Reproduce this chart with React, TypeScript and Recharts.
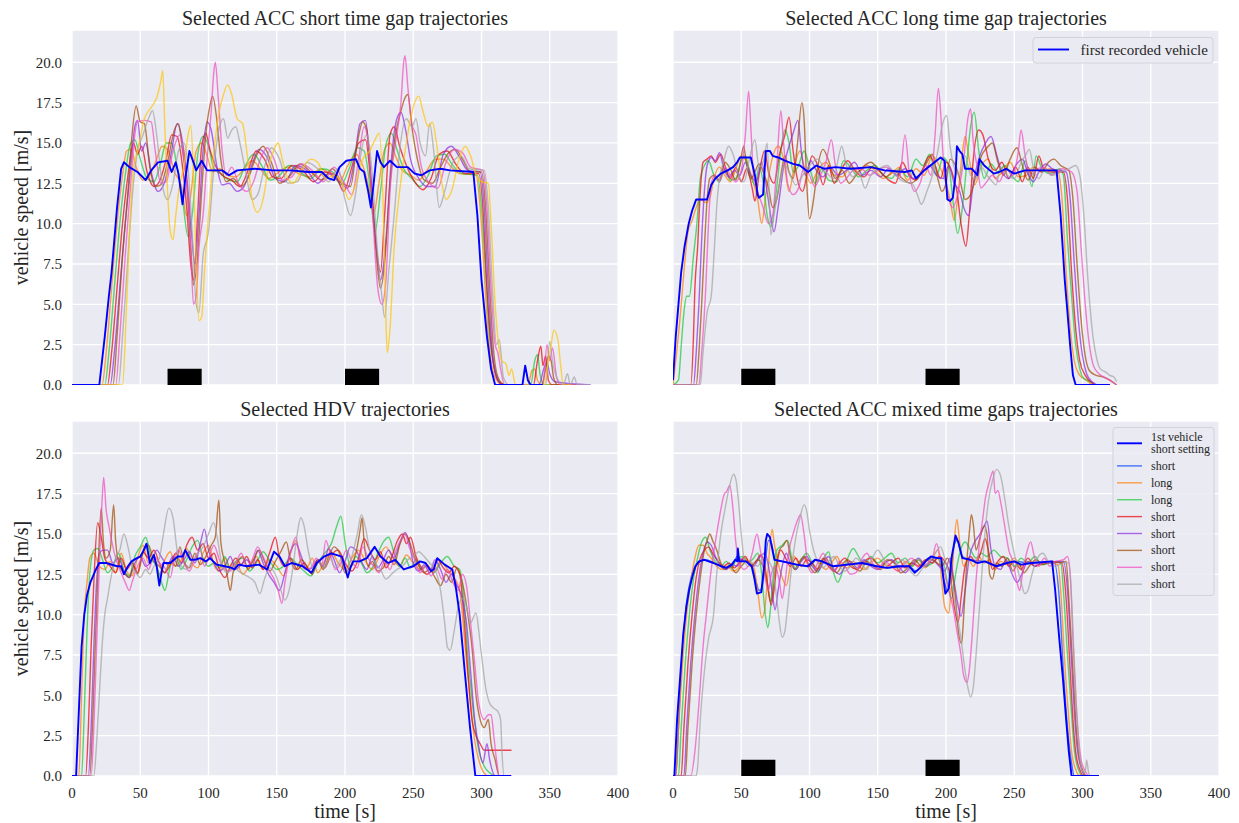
import React from 'react';
import { LineChart, Line, XAxis, YAxis, CartesianGrid, ReferenceArea } from 'recharts';

// ---------------- axes / labels ----------------
const xTicks = [0, 50, 100, 150, 200, 250, 300, 350, 400];
const yTicks = [0, 2.5, 5, 7.5, 10, 12.5, 15, 17.5, 20];
const titleTL = 'Selected ACC short time gap trajectories';
const titleTR = 'Selected ACC long time gap trajectories';
const titleBL = 'Selected HDV trajectories';
const titleBR = 'Selected ACC mixed time gaps trajectories';
const xLabel = 'time [s]';
const yLabel = 'vehicle speed [m/s]';
const legendTR = ['first recorded vehicle'];
const legendBR = ['1st vehicle', 'short setting', 'short', 'long', 'long', 'short', 'short', 'short', 'short', 'short'];

// disturbance bars [start, end, start, end] in seconds
const tlBars = [70, 95, 200, 225];
const trBars = [50, 75, 185, 210];
const blBars: number[] = [];
const brBars = [50, 75, 185, 210];

// ---------------- series: flat [t, v, t, v, ...] ----------------
// Top-left: ACC short time gap
const tlBlue = [0,0, 20,0, 24,3, 27,5.5, 29,7, 33,11, 36,13.4, 38,13.8, 42,13.5, 48,13.2, 54,12.7, 58,13.3, 63,13.8, 70,13.9, 73,13.2, 76,13.8, 78,13.1, 81,11.2, 83,12.8, 86,14.5, 89,13.8, 91,13.3, 95,13.9, 99,13.3, 103,13.3, 110,13.3, 115,13.0, 121,13.3, 134,13.4, 147,13.3, 160,13.3, 173,13.2, 183,13.2, 188,12.8, 192,12.7, 196,13.5, 201,13.9, 208,14.0, 211,13.4, 214,13.2, 217,12.0, 219,11.0, 221,12.5, 223.5,14.5, 226,13.8, 228.5,13.5, 233,13.9, 238,13.5, 246,13.5, 251,13.1, 256,13.0, 262,13.3, 270,13.4, 277,13.3, 294,13.2, 297,10.5, 300,6.5, 304,3.0, 307,1.0, 310,0, 330,0, 332,1.2, 334,0.3, 336,0, 345,0];
const tlOrange = [0,0, 22,0, 25,2, 29,6, 33,10, 37,13, 40,14.5, 43,14.6, 47,13.5, 52,12.7, 57,13.0, 62,14.0, 66,14.8, 70,14.6, 75,13.2, 80,12.4, 84,10.5, 87,11.8, 91,14.5, 95,15.0, 99,14.2, 103,13.2, 108,13.4, 114,13.0, 120,12.9, 126,13.4, 132,13.9, 138,13.4, 144,12.8, 150,13.1, 158,13.5, 166,13.1, 174,12.9, 182,13.4, 190,13.0, 196,12.6, 202,13.6, 208,14.3, 213,13.6, 217,12.4, 221,10.6, 225,12.6, 229,14.6, 233,15.0, 237,14.2, 242,13.3, 248,13.0, 254,12.7, 260,13.3, 266,14.0, 272,14.0, 278,13.5, 284,13.1, 296,13.0, 299,11, 302,7, 305,3, 308,1, 312,0.2, 316,0, 334,0, 337,0.9, 339,1.0, 341,0.3, 344,0, 360,0];
const tlGreen = [0,0, 24,0, 27,2, 31,6, 35,10, 39,13, 43,15.0, 46,15.2, 50,14.0, 55,12.8, 60,12.6, 65,13.8, 69,15.0, 73,15.0, 77,13.5, 81,11.5, 85,9.2, 88,10.5, 92,14.2, 96,15.4, 100,14.8, 104,13.4, 109,13.1, 115,12.7, 121,12.6, 127,13.6, 133,14.3, 139,13.6, 145,12.7, 151,12.9, 159,13.6, 167,13.2, 175,12.8, 183,13.4, 191,13.2, 197,12.4, 203,13.4, 209,14.7, 214,14.5, 218,12.5, 222,9.5, 226,12.0, 230,14.9, 234,15.6, 238,14.6, 243,13.4, 249,12.8, 255,12.3, 261,13.0, 267,14.2, 273,14.3, 279,13.6, 286,13.1, 297,13.0, 300,11, 303,7, 306,3, 309,1.2, 313,0.2, 318,0, 336,0, 339,1.5, 341,1.9, 343,0.6, 346,0, 360,0];
const tlRed = [0,0, 26,0, 29,2, 33,6, 37,10, 41,13, 45,15.0, 48,14.3, 51,14.8, 55,13.2, 60,12.3, 64,12.6, 69,14.0, 73,15.5, 77,15.4, 81,13.5, 84,11.0, 87,7.5, 89,6.5, 92,10.5, 95,14.8, 98,15.6, 101,14.6, 105,13.6, 110,13.0, 117,12.7, 123,12.3, 129,13.3, 135,14.5, 141,14.0, 147,12.9, 153,12.8, 161,13.6, 169,13.3, 177,12.6, 185,13.2, 193,13.0, 199,12.0, 205,13.5, 210,15.0, 215,15.2, 219,12.5, 223,8.5, 226,7.0, 229,10.5, 233,15.5, 236,16.0, 240,14.8, 245,13.6, 251,12.6, 257,12.1, 263,12.8, 269,14.3, 275,14.5, 281,13.7, 288,13.1, 298,13.1, 301,11, 304,6, 307,2.5, 310,0.8, 314,0.1, 320,0, 338,0, 341,1.5, 343.5,2.4, 345,1.2, 347,1.8, 349,0.3, 352,0, 365,0];
const tlPurple = [0,0, 28,0, 31,2, 35,6, 39,10, 43,13.5, 46,16.0, 48,16.4, 51,14.5, 54,15.0, 58,13.2, 63,12.0, 68,12.6, 73,14.5, 77,16.2, 80,15.5, 84,13.0, 87,10.0, 90,7.5, 93,10.5, 96,14.5, 99,16.3, 102,15.8, 106,13.6, 110,12.4, 115,12.5, 121,12.0, 126,12.3, 132,13.7, 137,14.6, 143,14.1, 149,12.8, 156,12.6, 164,13.6, 172,13.3, 180,12.5, 188,13.1, 196,12.6, 202,12.2, 207,14.0, 211,16.2, 215,16.4, 218,14.0, 222,9.5, 226,6.5, 230,9.0, 234,14.0, 238,16.5, 241,16.9, 244,16.0, 248,14.0, 254,12.8, 260,12.3, 266,12.3, 272,14.3, 278,14.8, 284,14.1, 290,13.3, 299,13.2, 302,11, 305,6, 308,2, 311,0.5, 316,0, 342,0, 346,1.1, 348,1.4, 350,0.7, 354,0.2, 380,0];
const tlBrown = [0,0, 30,0, 33,3, 37,8, 41,12, 44,15.5, 47,17.3, 50,16.3, 53,16.2, 57,13.5, 61,12.3, 65,12.4, 70,13.8, 75,15.8, 78,16.2, 81,14.5, 84,12.5, 87,8.5, 89,6.2, 92,8.0, 95,12.0, 98,15.5, 101,17.3, 103,17.9, 106,16.5, 109,14.0, 113,12.6, 118,12.8, 124,12.3, 130,13.0, 135,14.2, 140,14.8, 146,13.8, 152,12.5, 160,13.0, 167,13.7, 175,13.2, 183,12.7, 191,13.4, 198,12.5, 204,12.3, 209,15.0, 213,16.3, 216,15.8, 219,12.5, 223,8.0, 226,6.0, 229,7.5, 233,12.5, 237,15.5, 241,17.0, 244,17.8, 246,18.0, 249,16.0, 253,14.0, 258,12.7, 264,12.5, 270,13.5, 276,14.4, 281,14.6, 286,14.0, 292,13.2, 300,13.2, 303,11, 306,6, 309,2, 312,0.5, 317,0, 344,0, 347,1.0, 349,1.8, 351,1.5, 353,0.4, 356,0, 370,0];
const tlPink = [0,0, 32,0, 35,3, 39,8, 43,12.5, 46,15.5, 48,16.3, 53,16.4, 58,16.3, 61,14.5, 65,12.5, 69,12.6, 74,14.5, 79,15.5, 82,14.0, 85,11.5, 87,8.5, 89,5.0, 91,5.5, 93,8.5, 96,10.5, 99,14.0, 102,17.0, 104,19.5, 105,20.0, 107,18.0, 110,14.5, 113,13.0, 117,13.5, 122,12.5, 128,12.0, 133,12.6, 138,14.0, 143,14.7, 148,14.0, 154,12.7, 161,12.9, 168,13.7, 176,13.3, 184,12.6, 192,13.5, 199,12.6, 205,11.8, 210,14.0, 214,16.0, 217,15.0, 220,11.0, 224,6.0, 227,5.0, 230,6.5, 233,12.0, 237,15.0, 241,17.5, 243,20.0, 244,20.4, 246,18.5, 249,16.2, 252,15.5, 256,13.5, 262,12.5, 268,12.2, 274,13.8, 280,14.6, 286,14.4, 292,13.5, 301,13.3, 304,11, 307,6, 310,2.5, 312,2.0, 314,1.0, 317,0, 345,0, 348,2.5, 350,1.5, 352,2.3, 355,0.5, 358,0, 375,0];
const tlGray = [0,0, 34,0, 37,3, 41,8, 45,12.5, 48,14.5, 52,15.5, 56,16.5, 59,17.0, 62,15.5, 66,12.5, 70,11.5, 74,12.5, 78,14.5, 82,15.0, 85,13.5, 88,9.5, 91,5.0, 93,4.5, 96,8.0, 100,9.5, 104,13.5, 108,16.0, 111,16.5, 114,15.3, 117,15.8, 120,16.0, 123,15.0, 127,13.3, 132,11.5, 136,11.8, 141,13.5, 146,14.7, 152,14.0, 158,12.5, 165,12.6, 172,13.8, 180,13.4, 188,12.6, 195,13.4, 200,11.5, 204,10.5, 208,12.0, 212,14.5, 216,15.5, 220,13.0, 224,8.0, 227,5.5, 229,4.2, 232,7.0, 236,10.5, 240,14.5, 245,16.5, 249,16.0, 252,16.5, 255,15.0, 259,14.2, 262,16.2, 265,14.5, 269,11.0, 273,12.0, 279,13.8, 285,14.2, 291,13.4, 302,13.3, 305,11, 308,6, 311,2.5, 313,2.8, 316,0.5, 320,0, 347,0, 350,2.7, 352,1.5, 356,0.3, 360,0, 363,0.7, 365,0, 368,0.5, 370,0, 380,0];
const tlYellow = [0,0, 37,0, 40,5, 43,11, 45,13.5, 48,14.5, 53,16.5, 58,17.2, 62,17.8, 65,18.8, 66.5,19.5, 68,16.0, 70,12.0, 72,9.5, 74,9.0, 76,10.5, 79,12.5, 82,13.5, 85,15.5, 87,16.1, 89,13.0, 91,7.5, 93,4.0, 95,4.2, 97,7.0, 100,10.5, 104,14.5, 108,17.0, 111,18.0, 114,18.6, 117,18.0, 121,16.5, 125,16.2, 128,14.5, 132,11.5, 136,10.7, 140,11.5, 144,13.5, 148,14.6, 151,15.0, 154,14.0, 158,12.8, 162,12.5, 168,13.3, 175,14.0, 180,13.8, 186,12.8, 192,13.0, 198,12.5, 203,11.5, 208,12.5, 213,14.0, 218,14.5, 222,15.2, 225,15.6, 228,11.0, 230,4.0, 231,2.0, 233,3.5, 236,8.5, 240,12.0, 244,14.5, 248,16.5, 251,17.5, 254,17.9, 257,17.0, 261,16.0, 264,16.3, 267,15.0, 271,12.5, 274,11.5, 278,12.0, 283,13.8, 288,14.8, 292,14.2, 296,13.0, 300,12.6, 305,12.5, 307,10, 310,5, 313,2.2, 315,1.5, 318,1.3, 320,0.6, 322,1.0, 325,0, 346,0, 349,1.5, 351,2.5, 353,3.4, 356,2.8, 358,1.2, 360,0, 365,0];

// Top-right: ACC long time gap
const trBlue = [0,0.3, 2,3, 4,5.0, 6,7.0, 8.5,8.6, 11.5,10.0, 14,10.8, 17,11.5, 20,11.5, 25,11.5, 28,12.4, 31,12.8, 35,13.1, 40,13.3, 44,13.5, 47,13.8, 49,14.1, 57,14.1, 60,13.0, 62,11.8, 63,11.6, 66,11.8, 68,14.5, 71,14.5, 73,14.2, 77,14.1, 82,13.9, 88,13.7, 93,13.6, 99,13.2, 105,13.6, 111,13.4, 119,13.5, 130,13.4, 145,13.5, 155,13.3, 170,13.2, 175,13.3, 178,12.8, 184,13.3, 190,13.7, 196,14.1, 199,13.9, 201,11.5, 203,11.4, 205,11.6, 207,13.0, 208,14.8, 210,14.5, 212,14.3, 214,13.4, 219,13.4, 223,13.0, 224.5,14.0, 228,13.6, 235,13.1, 239,13.2, 244,13.4, 250,13.1, 258,13.3, 281,13.3, 284,10.5, 287,6.5, 289,4.5, 291,2.4, 293,0.6, 295,0, 320,0];
const trOrange = [0,0, 2,1.5, 5,4.0, 8,7.0, 11,9.5, 14,10.2, 17,11.0, 20,11.5, 24,11.3, 27,11.6, 30,12.8, 34,13.5, 38,13.0, 42,12.6, 46,13.4, 50,14.2, 54,13.8, 58,12.8, 62,11.5, 65,10.0, 68,11.8, 72,13.8, 77,14.8, 81,14.0, 85,12.0, 89,13.6, 93,14.5, 97,13.2, 101,12.5, 106,13.3, 112,13.8, 118,13.0, 124,12.9, 130,13.5, 136,13.2, 142,13.6, 148,13.3, 154,12.8, 160,13.1, 166,13.5, 172,12.7, 178,13.4, 184,13.0, 190,14.2, 195,13.6, 200,12.5, 203,11.5, 206,10.2, 209,12.0, 212,14.4, 214,15.4, 217,14.0, 221,12.4, 226,13.6, 231,14.0, 236,12.8, 241,13.2, 247,13.8, 253,12.9, 259,13.0, 264,13.5, 270,13.2, 276,13.4, 282,13.2, 285,11.5, 288,7, 291,3.5, 294,1.5, 298,0.6, 303,0.3, 308,0, 320,0];
const trGreen = [0,0, 4,0.3, 6,2.4, 8,4.5, 10,5.5, 12,5.5, 15,8.0, 17.5,10.0, 20,12.8, 23,13.6, 26,13.9, 30,13.0, 34,12.6, 38,13.4, 42,12.7, 46,12.8, 50,13.9, 53,14.2, 56,13.2, 60,12.4, 63,13.5, 66,12.6, 69,10.5, 72,9.8, 75,11.5, 79,14.5, 82,15.8, 85,15.0, 88,13.2, 92,13.6, 96,14.5, 100,13.5, 104,12.5, 109,13.4, 114,12.7, 120,12.6, 125,13.9, 130,13.5, 136,12.9, 142,13.3, 148,13.6, 154,13.0, 160,12.8, 166,13.4, 172,12.9, 178,14.0, 183,13.6, 188,14.3, 193,13.0, 198,14.1, 202,13.6, 205,11.5, 208.5,9.4, 212,11.0, 215,13.5, 218,16.0, 220.7,16.9, 224,14.5, 228,12.8, 233,13.7, 238,13.2, 243,13.6, 248,13.0, 253,12.6, 258,13.9, 263,12.3, 266,14.2, 271,13.3, 277,13.1, 283,13.4, 286,13.0, 289,9, 292,5.5, 295,2.5, 298,1.0, 301,0.4, 306,0.2, 310,0, 320,0];
const trRed = [0,0, 13,0, 15,3.0, 16,5.9, 18,8.5, 20,12.0, 22,13.8, 25,14.0, 28,14.2, 31,13.8, 35,14.3, 38,13.6, 42,12.8, 46,13.5, 50,12.6, 54,13.4, 58,12.2, 60,11.4, 63,13.0, 67,14.5, 70,13.2, 74,12.5, 78,14.3, 82,15.5, 85,16.6, 88,14.5, 91,12.8, 95,12.0, 99,13.4, 102,14.2, 106,13.6, 110,12.4, 114,13.6, 118,12.5, 122,13.1, 128,13.9, 134,13.2, 140,12.9, 146,13.5, 152,13.2, 158,12.7, 163,12.5, 168,13.8, 173,13.0, 178,12.7, 183,13.4, 188,14.2, 192,13.6, 196,12.8, 200,13.8, 204,13.3, 208,12.0, 211,10.0, 214.6,8.6, 217,10.5, 220,14.0, 224,15.8, 227,15.5, 231,14.0, 236,13.3, 241,13.8, 246,12.8, 251,13.5, 256,12.6, 260,13.5, 264,12.8, 268,14.2, 272,13.3, 278,13.2, 286,13.2, 289,11.5, 292,7, 295,3.5, 298,1.5, 302,0.6, 306,0.2, 310,0, 320,0];
const trPurple = [0,0, 15,0, 17,2.0, 19,5.0, 21,9.0, 23,12.0, 25,13.6, 28,14.1, 31,13.9, 34,14.4, 37,13.5, 41,12.9, 45,13.3, 49,13.0, 53,13.8, 57,13.0, 61,12.6, 65,13.8, 68,12.5, 71,10.8, 74,9.5, 77,11.0, 81,13.5, 85,14.8, 88,15.6, 91.5,16.4, 94,14.5, 97,13.0, 101,13.9, 105,13.3, 110,12.9, 115,13.5, 121,13.0, 127,13.3, 133,13.8, 139,13.0, 145,13.3, 152,12.9, 158,13.4, 164,13.0, 170,13.4, 176,12.8, 182,13.1, 188,13.6, 193,13.0, 198,12.8, 202,13.6, 206,12.5, 210,12.0, 213,11.0, 216.6,10.5, 220,12.5, 224,14.0, 229,15.0, 233,15.4, 237,14.3, 241,13.2, 246,12.8, 251,13.6, 256,14.0, 260,13.1, 264,12.6, 268,13.2, 273,13.7, 278,13.4, 288,13.2, 291,11.5, 294,7.5, 297,4, 300,1.8, 303,0.7, 307,0.2, 312,0, 320,0];
const trBrown = [0,0, 17,0, 19,2, 21,5, 23,8.5, 25,11.5, 27,12.8, 30,13.0, 34,12.7, 38,13.8, 42,13.4, 46,12.7, 49,13.6, 51.7,14.8, 54,13.6, 57,12.8, 60,13.2, 63,13.7, 67,13.0, 70,12.2, 73,11.0, 76,11.5, 79,13.0, 82,14.2, 85,13.2, 88,12.8, 91,14.8, 94.4,17.5, 96,16.5, 98,12.5, 100,10.3, 103,11.5, 106,13.5, 110,14.6, 114,13.9, 119,12.8, 124,13.3, 129,12.5, 134,13.0, 139,13.5, 145,13.8, 150,13.4, 156,12.9, 162,13.3, 168,12.8, 174,12.5, 180,12.9, 186,13.8, 190,14.3, 194,12.8, 197,12.0, 200,12.5, 203,14.0, 207,13.6, 210,12.8, 214,11.5, 218,11.8, 222,13.0, 226,14.2, 230,14.7, 234,15.0, 238,13.8, 242,13.0, 247,14.0, 252,14.7, 256,13.6, 260,12.7, 265,13.5, 270,13.2, 275,13.8, 279,14.0, 284,13.6, 290,13.3, 293,11.5, 296,7.5, 299,4.0, 302,1.8, 305,0.9, 310,0.6, 315,0.5, 320,0.3, 325,0];
const trPink = [0,0, 19,0, 21,2, 24,6, 26,10, 28,12.5, 31,13.0, 34,12.6, 38,13.5, 42,13.0, 46,12.6, 50,13.3, 53,15.5, 55.4,18.2, 57,16.0, 59,13.0, 62,12.0, 66,11.0, 70,10.0, 73,10.5, 76,13.5, 79,17.0, 81,15.0, 84,12.5, 88,11.8, 92,12.2, 96,13.5, 100,13.0, 104,12.3, 108,13.0, 112,13.8, 116,15.2, 119,13.6, 123,12.5, 127,12.8, 132,13.3, 138,13.4, 144,13.0, 150,13.3, 156,13.5, 162,13.2, 166,12.8, 170,15.5, 173,13.2, 177,12.0, 181,12.5, 185,13.6, 189,13.0, 192,15.5, 194.4,18.4, 196,17.0, 198,14.0, 201,12.0, 205,11.0, 209,12.0, 213,14.0, 216,16.5, 218,17.1, 220,15.0, 223,13.5, 225.6,12.2, 229,12.5, 234,13.0, 239,12.6, 244,13.4, 249,13.0, 253,14.5, 255,15.8, 258,14.2, 262,13.0, 267,13.4, 272,13.5, 277,13.0, 285,13.4, 292,13.2, 296,12.0, 299,8.5, 302,5, 305,2.5, 308,1.2, 312,0.7, 318,0.4, 322,0.2, 325,0];
const trGray = [0,0, 20,0, 22,2, 25,4.5, 28,5.5, 30,8.0, 32,11.0, 34,12.8, 37,13.8, 40.7,14.8, 44,14.3, 48,13.0, 52,12.6, 56,14.0, 60,15.2, 63,13.5, 66,13.8, 69,15.0, 71.7,9.3, 74,10.5, 78,12.5, 82,13.6, 86,13.0, 90,12.4, 95,13.0, 100,13.6, 106,14.0, 112,13.2, 118,12.8, 121,14.0, 123.6,14.8, 127,13.6, 132,12.9, 136,13.2, 140.7,12.2, 145,13.0, 151,13.4, 157,13.6, 163,13.0, 169,12.6, 175,12.5, 179,11.8, 182,11.2, 186,12.0, 190,13.0, 194,14.5, 197,16.0, 200.5,16.7, 203,14.8, 206,13.5, 210,13.0, 214,14.2, 218,13.0, 222,12.8, 226,13.5, 230,13.0, 234,12.6, 236.6,12.4, 240,13.5, 245,13.0, 250,12.8, 255,13.8, 258,14.2, 261,14.6, 264,13.5, 268,12.8, 272,13.3, 278,13.0, 284,13.2, 290,13.4, 295,13.6, 298,13.0, 301,10.5, 304,6.5, 307,3.5, 310,1.8, 313,1.0, 317,0.8, 320,0.6, 323,0.5, 325,0.2];

// Bottom-left: HDV
const blBlue = [0,0, 3,0, 5,4, 7,8, 9,10.0, 11,11.2, 13.5,12.0, 17.5,12.8, 20,13.2, 25,13.2, 33,13.0, 36,13.0, 38,12.5, 41,13.0, 43.6,13.3, 47.5,13.5, 50,13.6, 52,13.9, 54.6,14.4, 57,13.2, 60,13.7, 62,13.0, 64,11.8, 66,12.8, 67,13.2, 72,13.2, 77.5,13.6, 81,13.6, 83,14.0, 86.7,13.4, 90,13.4, 94,13.5, 98,13.3, 101,13.5, 106,13.1, 112,13.0, 117,12.9, 119,12.8, 122,13.1, 128,13.0, 137,13.1, 143,12.8, 148,13.9, 152,13.6, 156,13.0, 161,13.2, 169,13.0, 175.5,12.6, 179.4,13.2, 184.6,13.6, 190,13.8, 197.7,13.6, 200,12.9, 202,12.3, 204,12.9, 206,13.3, 210.7,13.3, 216,13.5, 221.7,14.2, 226,13.6, 231.6,13.2, 236.8,13.4, 243,12.8, 250,13.0, 255,13.3, 259,13.2, 263,12.7, 265,12.8, 267.6,13.5, 273,13.1, 278.6,12.8, 281,11.8, 284,10.0, 287.7,6.5, 291.6,3.0, 295.5,0, 321.7,0];
const blOrange = [0,0, 5,0, 7,5, 9,10, 11,12.0, 13,13.5, 16,13.8, 20,13.0, 24,12.8, 28,13.3, 32,12.6, 36,13.8, 40,12.7, 44,12.4, 48,13.5, 52,14.3, 56,13.2, 60,13.6, 64,12.5, 68,13.4, 72,13.9, 76,13.0, 80,13.4, 84,14.1, 88,13.2, 92,12.9, 96,13.8, 100,14.3, 104,13.1, 108,12.7, 112,13.5, 116,12.9, 120,13.3, 125,12.5, 130,13.0, 135,13.6, 140,12.8, 145,13.4, 150,13.0, 155,12.4, 160,13.8, 164,14.6, 168,13.2, 172,12.9, 176,13.5, 180,12.6, 185,13.3, 190,13.9, 195,13.2, 200,12.8, 205,13.5, 210,14.0, 215,13.3, 220,12.8, 225,13.6, 230,14.2, 235,13.5, 240,13.0, 245,13.7, 250,13.2, 255,12.8, 260,13.1, 265,12.6, 270,13.3, 275,12.8, 280,12.3, 284,11.5, 288,8.0, 292,4.5, 295,2.2, 298,1.0, 301,0.3, 305,0, 315,0];
const blGreen = [0,0, 7,0, 9,4, 11,9, 13,12.5, 16,14.0, 19,14.1, 22,13.5, 26,12.6, 30,13.0, 34,13.8, 38,12.8, 42,12.4, 46,13.6, 50,14.2, 54,14.8, 58,13.5, 62,13.0, 66,11.9, 68,11.5, 72,13.0, 76,13.6, 80,12.8, 84,13.4, 88,14.2, 92,14.6, 96,13.5, 100,13.0, 104,13.2, 108,12.9, 112,13.6, 116,12.8, 120,13.3, 125,13.5, 130,12.7, 135,13.2, 140,13.9, 145,13.3, 150,12.8, 155,13.0, 160,13.5, 165,13.1, 170,12.7, 175,12.4, 180,13.2, 185,13.8, 190,14.4, 194,15.5, 197,16.1, 200,14.5, 204,13.0, 208,13.6, 212,13.2, 216,12.6, 220,12.9, 224,13.8, 228,14.5, 232,14.8, 236,13.8, 240,13.0, 244,13.5, 248,12.9, 252,13.4, 256,12.8, 260,13.0, 265,12.6, 270,13.2, 275,13.6, 280,13.0, 284,12.8, 287,11.0, 290,7.5, 294,4.0, 298,1.6, 302,0.6, 306,0.2, 310,0, 320,0];
const blRed = [0,0, 10,0, 12,3, 14,8, 16,12.0, 18.8,15.7, 21,15.0, 24,13.5, 28,13.0, 32,12.6, 36,13.5, 40,12.8, 44,13.2, 48,12.6, 52,13.9, 56,13.5, 60,14.0, 64,13.2, 68,12.6, 72,13.1, 76,13.8, 80,13.2, 84,14.3, 88,14.8, 92,14.0, 96,14.4, 100,13.5, 104,13.8, 108,12.8, 112,12.3, 116,13.0, 120,13.5, 124,13.1, 128,13.6, 132,12.9, 136,13.4, 140,12.8, 145,13.9, 149,14.8, 152,13.5, 156,13.0, 160,13.5, 165,12.8, 170,13.2, 175,12.6, 180,13.4, 185,12.9, 190,13.7, 195,14.0, 200,13.2, 205,12.7, 210,13.5, 214,14.7, 218,14.0, 222,13.4, 226,13.9, 230,12.9, 234,13.5, 238,14.5, 242,15.0, 245,14.4, 248,14.8, 252,13.6, 256,12.9, 260,12.5, 264,12.8, 268,13.4, 272,12.9, 276,12.6, 280,13.0, 284,12.5, 287,10.0, 290,6.5, 293,3.5, 296,2.5, 299,2.0, 302,1.6, 322,1.6];
const blPurple = [0,0, 12,0, 14,3, 16,8, 18,12, 20,13.8, 22.7,14.0, 26,14.0, 30,13.2, 34,13.5, 38,12.7, 42,12.3, 46,13.2, 50,13.6, 54,13.0, 58,13.3, 62,14.0, 66,13.5, 70,13.1, 74,13.6, 78,13.0, 82,13.4, 86,13.9, 90,13.2, 94,14.4, 97,15.3, 100,14.0, 104,13.2, 108,12.7, 112,13.0, 116,13.6, 120,12.8, 124,13.1, 128,13.4, 132,13.0, 136,14.0, 140,13.2, 144,12.5, 148,12.0, 152,11.5, 156,12.6, 160,13.9, 164,14.4, 168,13.6, 172,12.8, 176,12.9, 180,13.4, 184,13.0, 188,14.1, 192,13.4, 196,12.6, 200,13.3, 204,14.2, 208,14.0, 212,13.3, 216,12.8, 220,13.6, 224,12.9, 228,13.4, 232,14.0, 236,13.5, 240,14.4, 244,15.1, 247,14.5, 250,13.2, 254,12.7, 258,13.1, 262,12.6, 266,13.4, 270,12.8, 274,12.0, 278,12.5, 282,11.8, 286,11.0, 289,9.5, 292,6.5, 295,3.5, 298,1.8, 301,0.8, 304,2.0, 306,1.0, 310,0, 322,0];
const blBrown = [0,0, 13,0, 15,3, 17,8, 19,12.5, 21.4,16.6, 23,14.5, 25,13.5, 28,14.0, 30.5,16.8, 32,14.5, 35,13.0, 38,12.6, 42,12.3, 45,13.0, 48,12.5, 52,13.8, 56,14.3, 60,13.3, 64,13.0, 68,12.6, 72,13.3, 76,13.0, 79,14.2, 82,13.3, 86,12.9, 90,13.8, 94,13.1, 98,13.6, 102,14.3, 105,14.8, 107.6,17.1, 109,14.5, 112,13.2, 114,12.3, 116,11.5, 118,12.6, 121,13.2, 125,13.6, 129,12.8, 133,13.4, 137,14.0, 141,13.3, 145,12.7, 149,13.3, 153,13.9, 157,14.5, 160,13.4, 164,12.8, 168,13.4, 172,13.0, 176,12.5, 180,13.4, 184,12.8, 188,13.6, 192,14.2, 196,13.8, 200,12.6, 204,13.0, 208,13.8, 211,15.2, 212.5,16.0, 214,14.5, 217,13.0, 220,13.3, 224,12.7, 228,12.9, 232,13.6, 236,13.1, 240,14.3, 244,15.0, 247,14.6, 250,13.8, 254,13.0, 258,12.6, 262,12.8, 266,12.3, 270,11.8, 274,12.5, 278,12.0, 282,12.9, 286,12.0, 290,10.0, 293,8.0, 296,5.0, 299,3.5, 302,3.0, 305,3.5, 307,2.0, 310,1.0, 313,0, 320,0];
const blPink = [0,0, 14,0, 16,3, 18,8, 20,13, 22,17.0, 23.2,18.5, 25,16.5, 27,15.5, 29,14.6, 32,13.5, 35,12.8, 39,12.0, 42,11.5, 44,12.0, 48,13.0, 52,13.5, 56,12.8, 60,13.6, 64,13.2, 68,12.9, 72,12.3, 75,13.5, 78,14.0, 82,13.2, 86,12.7, 90,13.5, 94,14.0, 97,13.0, 100,13.5, 104,14.3, 108,13.4, 112,12.8, 116,12.7, 120,13.2, 124,13.8, 128,13.0, 132,13.4, 136,14.2, 140,13.6, 144,12.8, 148,12.2, 151,11.5, 153.8,10.7, 156,12.0, 160,13.8, 164,14.8, 167,13.5, 171,12.8, 175,12.9, 179,13.5, 183,13.1, 186,14.6, 189,13.8, 193,12.8, 197,13.2, 201,14.0, 205,13.3, 209,12.9, 213,14.2, 217,13.5, 221,13.0, 225,12.6, 229,13.3, 233,12.8, 237,13.9, 240,14.5, 244,15.0, 247,14.2, 251,13.4, 255,12.6, 259,13.0, 263,12.4, 267,12.9, 271,12.2, 275,12.8, 279,12.0, 283,11.5, 286,12.5, 289,11.8, 292,9.5, 295,7.0, 298,4.5, 302,3.5, 305,3.8, 307,3.8, 309,2.5, 311,1.0, 313,0, 320,0];
const blGray = [0,0, 16,0, 18,2, 20,5, 22,8, 24,10.0, 26,11.0, 29,12.5, 32,13.5, 35,14.0, 38,15.0, 41,14.2, 44,13.0, 47,12.6, 50,12.3, 54,12.8, 57,12.5, 60,13.0, 64,13.5, 67,15.0, 71,16.6, 74,16.0, 77,14.0, 80,13.0, 84,12.8, 88,13.3, 92,13.8, 96,14.2, 100,15.0, 103.7,15.7, 107,14.5, 110,13.0, 114,12.6, 118,13.0, 122,12.7, 126,12.5, 130,12.3, 134,12.0, 137.6,11.3, 141,12.2, 145,12.9, 149,12.5, 152,11.8, 156,10.9, 159,11.5, 162,13.0, 165,15.0, 167.6,16.0, 170,15.5, 173,14.0, 177,12.8, 181,13.3, 185,12.9, 189,13.5, 193,12.9, 197,13.4, 201,12.8, 205,13.6, 209,15.0, 212,16.2, 215,15.4, 218,14.0, 222,13.2, 226,12.8, 230,12.2, 234,12.5, 238,12.8, 242,13.0, 246,13.4, 250,13.6, 254,13.9, 258,13.6, 262,13.2, 266,12.8, 270,11.5, 273,9.5, 275,8.0, 277,7.8, 280,9.0, 283,10.5, 286,11.0, 289,10.5, 292,9.5, 295,10.0, 296,10.1, 298,9.0, 300,7.5, 303,5.5, 306,4.5, 309,4.2, 312,4.0, 314,3.5, 315,1.5, 316.5,0, 320,0];

// Bottom-right: ACC mixed time gaps
const brBlue = [0,0, 1,0, 3,3.5, 5.8,6.8, 7.5,8.8, 9.8,10.5, 12,11.6, 14.3,12.4, 16.5,13.0, 19,13.3, 23,13.4, 29.7,13.2, 35,13.0, 39,12.9, 43,13.1, 45.6,13.4, 47,13.3, 47.5,14.1, 48.5,13.3, 53.6,13.3, 57.6,13.0, 59.5,12.3, 61.5,11.3, 64.7,11.4, 66.8,13.0, 68,14.6, 69,15.0, 71,14.8, 74.3,13.4, 80,13.3, 85.4,13.2, 90.7,13.1, 98.7,13.0, 104,13.4, 109.3,13.3, 117,13.0, 128,13.1, 138.5,13.2, 149,13.0, 157,12.9, 165,13.0, 173,13.0, 177,12.6, 181,12.9, 186,13.4, 189,13.6, 194,13.5, 196.5,13.5, 198,12.3, 199.5,11.3, 202,11.6, 204,13.5, 207,14.9, 209,14.5, 212,13.5, 218,13.4, 223,13.2, 228.6,13.3, 236.6,13.0, 244.6,13.2, 250,13.3, 255,13.1, 263,13.2, 277.7,13.3, 280,11.5, 283,8.5, 285.7,6.0, 288,3.5, 290,1.5, 292,0, 312,0];
const brShort = [0,0, 2,0, 4,3.0, 6,6.5, 8,9.0, 10,10.8, 13,12.2, 16,13.0, 20,13.3, 24,13.4, 30,13.2, 36,13.0, 40,12.9, 44,13.1, 47,13.6, 50,13.4, 54,13.3, 58,13.0, 61,12.0, 63,11.5, 65,11.6, 67,12.8, 70,14.6, 72,14.4, 75,13.4, 80,13.3, 90,13.1, 100,13.0, 105,13.4, 117,13.0, 138,13.2, 157,12.9, 173,13.0, 178,12.7, 186,13.4, 194,13.5, 199,12.0, 201,11.5, 203,12.0, 206,14.3, 208,14.6, 212,13.6, 218,13.4, 228,13.3, 237,13.0, 250,13.3, 263,13.2, 279,13.3, 283,11, 286,6.5, 289,3.0, 292,0.8, 294,0, 312,0];
const brOrange = [0,0, 2,0, 4,3.0, 7,7.0, 10,10.0, 13,12.0, 16,13.5, 19,14.3, 22,14.3, 25,13.8, 28,13.5, 32,13.0, 36,12.8, 40,13.0, 44,12.7, 48,12.9, 52,13.5, 56,13.3, 59,13.0, 62,11.5, 65,9.8, 67,10.2, 69,12.0, 71,14.3, 72.7,15.3, 74,14.5, 77,13.2, 80,12.3, 83,11.8, 86,13.0, 89,13.6, 92,13.2, 96,13.5, 100,13.0, 104,13.4, 108,13.1, 112,12.8, 116,13.2, 120,13.6, 124,13.0, 128,12.9, 132,13.3, 136,13.0, 140,12.8, 145,13.2, 150,13.5, 155,13.1, 160,13.0, 165,12.7, 170,13.3, 175,13.0, 180,13.4, 185,12.9, 190,13.5, 194,14.0, 197,12.0, 199,10.5, 202,10.1, 204,12.0, 206,14.5, 208,15.9, 210,14.5, 213,13.0, 216,13.5, 220,13.0, 224,13.6, 228,13.2, 232,13.4, 236,12.8, 240,13.3, 245,13.1, 250,13.5, 255,13.0, 260,13.3, 265,13.0, 270,13.1, 276,13.2, 282,13.1, 284,11.5, 287,7, 290,3.5, 292,1.5, 295,0.4, 298,0, 310,0];
const brGreen = [0,0, 4,0, 6,3.0, 9,7.0, 12,10.0, 15,12.2, 18,13.5, 21,14.5, 24,14.8, 27,14.0, 31,13.3, 35,13.0, 39,13.3, 43,12.9, 47,13.5, 51,13.6, 55,13.2, 59,13.5, 62,13.8, 65,12.5, 67,10.5, 69.5,9.2, 71,10.0, 73,12.0, 76,14.0, 80,14.3, 84,14.6, 87,13.5, 90,12.8, 94,13.4, 98,13.8, 102,13.2, 106,12.6, 110,13.4, 114,13.9, 117,12.8, 120.7,12.0, 124,12.6, 128,13.5, 132,14.1, 136,13.6, 140,13.1, 145,13.6, 150,13.2, 155,13.5, 160,13.8, 165,13.2, 170,13.5, 175,13.0, 180,13.4, 185,13.0, 190,13.2, 194,13.5, 198,13.2, 201,12.0, 204,11.0, 207,12.5, 210,13.8, 214,14.5, 218,14.0, 222,13.5, 226,13.8, 230,13.6, 235,14.0, 240,13.6, 245,13.5, 250,13.0, 255,13.5, 260,13.2, 265,13.6, 270,13.1, 276,13.2, 284,13.3, 286,11.5, 289,7.5, 292,3.8, 294,1.6, 297,0.4, 300,0, 312,0];
const brRed = [0,0, 6,0, 8,3.0, 11,7.0, 14,10.0, 17,12.3, 20,13.5, 23,14.0, 26,14.2, 29,13.8, 33,13.3, 37,13.0, 41,13.2, 45,12.9, 49,13.3, 53,13.6, 57,13.0, 61,13.3, 64,13.7, 67,13.2, 69,12.0, 72,10.6, 74,11.5, 76,13.0, 79,14.0, 82,13.6, 86,13.0, 90,13.5, 94,13.0, 98,13.4, 102,13.2, 106,12.8, 110,13.5, 114,13.0, 118,12.7, 122,13.2, 126,13.5, 130,13.0, 135,12.8, 140,13.3, 145,13.5, 150,13.1, 155,12.9, 160,13.2, 165,13.5, 170,12.9, 175,13.2, 180,13.0, 185,13.4, 190,13.2, 195,13.6, 199,13.3, 203,12.5, 206,10.5, 208.8,9.5, 211,11.0, 214,13.0, 218,13.6, 222,13.2, 226,14.0, 228.6,14.7, 231,14.0, 234,12.8, 238,13.3, 242,13.6, 246,13.0, 250,13.3, 255,12.8, 260,13.5, 265,13.0, 270,13.2, 277,13.3, 285,13.2, 288,11.0, 291,6.5, 293,3.5, 295,1.5, 298,0.4, 301,0, 312,0];
const brPurple = [0,0, 8,0, 10,3, 13,7, 16,10.0, 19,12.3, 22,13.8, 25,14.5, 28,14.3, 31,13.6, 35,13.0, 39,12.8, 43,13.1, 47,13.0, 51,13.4, 55,13.2, 59,13.0, 63,13.5, 67,13.8, 70,13.0, 72.5,11.5, 74.8,10.3, 77,11.5, 80,13.0, 83,13.8, 86,13.2, 90,12.8, 94,13.3, 98,13.6, 102,13.0, 106,12.7, 110,13.2, 114,13.6, 118,12.8, 122,12.5, 126,13.0, 130,13.3, 135,12.9, 140,13.4, 145,13.0, 150,12.8, 155,13.2, 160,13.4, 165,13.0, 170,12.6, 175,13.1, 180,13.5, 185,13.0, 190,13.4, 195,13.0, 199,12.7, 203,13.5, 206,12.0, 209,10.5, 211,9.9, 214,11.5, 217,13.5, 221,14.5, 225,15.0, 228,15.5, 230,15.8, 233,14.0, 236,13.0, 240,12.8, 244,13.4, 248,12.6, 252,12.0, 256,12.6, 260,13.3, 265,13.0, 270,13.2, 277,13.2, 286,13.3, 289,11.5, 292,7.0, 294,4.0, 296,1.8, 299,0.5, 302,0, 312,0];
const brBrown = [0,0, 9,0, 11,3, 14,7, 17,10.0, 20,12.3, 23,14.0, 25,14.6, 27,15.0, 29,14.6, 32,14.0, 35,13.2, 38,12.8, 42,13.0, 46,12.6, 50,13.0, 54,13.3, 58,13.1, 62,13.4, 66,13.0, 69,12.0, 71.6,10.8, 73,11.3, 75,12.8, 78,14.0, 81,14.3, 83.3,14.6, 86,13.6, 89,12.8, 92,13.2, 96,13.6, 100,13.0, 104,12.6, 108,13.2, 112,13.5, 116,12.9, 120,12.6, 124,13.1, 128,13.4, 132,13.0, 137,12.7, 142,13.3, 147,13.0, 152,12.8, 157,13.4, 162,13.2, 167,12.6, 172,12.9, 177,13.4, 182,13.0, 187,13.5, 192,13.3, 197,13.0, 201,13.5, 204,12.8, 207,11.0, 209,9.0, 211.4,8.2, 213,10.0, 215,13.0, 217,15.0, 218.6,16.2, 220,15.6, 222,14.0, 225,14.8, 228,15.5, 230,15.0, 232,12.5, 234,12.2, 237,13.2, 241,13.0, 245,13.5, 249,12.7, 253,13.2, 257,12.6, 261,13.0, 266,13.4, 271,13.1, 277,13.3, 284,13.2, 288,13.3, 290,11.0, 293,6.5, 295,3.5, 297,1.5, 300,0.4, 303,0, 312,0];
const brPink = [0,0, 13,0, 16,1.5, 19,4.5, 22,8.0, 24.4,10.0, 28,12.8, 32,15.0, 35,16.5, 37.7,17.5, 39,17.6, 41.6,18.0, 44,16.5, 46,14.5, 49.6,13.0, 52,12.8, 55,13.0, 58,13.8, 61.5,15.0, 64,14.0, 67,12.5, 70,11.5, 72,12.5, 75,13.0, 78,12.0, 80,11.0, 82,12.0, 85,14.0, 88,15.0, 91,15.8, 93.4,16.2, 96,15.0, 99,13.0, 102,12.6, 106,13.2, 110,13.8, 114,13.0, 118,12.7, 122,13.3, 126,13.0, 130,12.5, 134,12.6, 138,13.4, 142,13.8, 146,13.2, 150,12.8, 155,13.3, 160,13.0, 165,12.7, 170,13.2, 175,13.5, 180,12.9, 185,13.1, 190,13.5, 193,14.4, 196,13.5, 199,12.5, 202,11.5, 205,10.5, 208,9.0, 211,7.5, 213,6.2, 215.4,5.8, 217,6.5, 219,8.5, 221,11.0, 224,14.0, 227,16.0, 229,17.3, 231,18.0, 233,18.6, 234.5,18.9, 236,17.5, 238,17.7, 240,17.0, 243,15.5, 246,14.0, 249,13.3, 252,12.0, 254,11.5, 256,12.5, 259,13.8, 262,14.5, 265,13.5, 268,13.0, 272,13.5, 276,13.0, 280,13.3, 286,13.4, 289,13.6, 291,12.5, 293,8.5, 295,5.0, 297,2.5, 299,1.0, 302,0.3, 305,0, 312,0];
const brGray = [0,0, 17,0, 18,0.5, 20,3.5, 23,6.5, 26,8.5, 29.7,10.0, 32,12.5, 35,15.0, 38,16.5, 41,17.8, 44.3,18.7, 46,18.4, 48,17.0, 50,15.0, 52,13.5, 55,13.0, 58,13.2, 62,13.0, 66,13.5, 70,13.3, 73,12.8, 76,11.0, 78,9.5, 80,8.6, 82,9.0, 84,10.5, 87,13.0, 90,14.8, 93,16.0, 96,16.8, 98,16.4, 100,15.2, 103,14.0, 106,13.3, 110,12.9, 114,13.3, 118,13.6, 122,13.0, 126,12.7, 130,13.0, 134,13.5, 138,13.2, 142,12.8, 146,13.5, 150,14.0, 154,13.5, 158,12.9, 163,13.1, 168,13.4, 173,12.8, 178,12.4, 183,12.9, 188,13.3, 192,13.8, 196,14.2, 199,13.5, 202,12.5, 205,11.5, 208,10.0, 211,8.5, 214,6.5, 216,5.5, 218,4.9, 220,5.5, 222,7.5, 225,11.0, 228,14.5, 231,17.0, 234,18.3, 237,19.0, 240,18.6, 243,17.2, 246,15.5, 249,14.2, 252,13.0, 255,12.0, 257.8,11.3, 260,11.5, 263,12.5, 267,13.5, 271,13.8, 275,13.3, 280,13.0, 286,13.2, 290,13.2, 292,11.0, 294,7.0, 296,3.5, 298,1.2, 300,0.3, 302,0.2, 303,1.0, 304.5,0.2, 306,0, 312,0];

// ---------------- colours ----------------
const MAIN = '#0000ff';
const C_BLUE = '#023eff';
const C_ORANGE = '#ff7c00';
const C_GREEN = '#1ac938';
const C_RED = '#e8000b';
const C_PURPLE = '#8b2be2';
const C_BROWN = '#9f4800';
const C_PINK = '#f14cc1';
const C_GRAY = '#a3a3a3';
const C_YELLOW = '#ffc400';

const FONT = "'Liberation Serif', 'Times New Roman', Times, serif";
const TEXT = '#262626';
const BG = '#eaeaf2';

type Series = { data: number[]; color: string; main?: boolean };

function toPts(a: number[]) {
  const out: { t: number; v: number }[] = [];
  for (let i = 0; i + 1 < a.length; i += 2) out.push({ t: a[i], v: a[i + 1] });
  return out;
}

const tlSeries: Series[] = [
  { data: tlOrange, color: C_ORANGE }, { data: tlGreen, color: C_GREEN }, { data: tlRed, color: C_RED },
  { data: tlPurple, color: C_PURPLE }, { data: tlBrown, color: C_BROWN }, { data: tlPink, color: C_PINK },
  { data: tlGray, color: C_GRAY }, { data: tlYellow, color: C_YELLOW }, { data: tlBlue, color: MAIN, main: true },
];
const trSeries: Series[] = [
  { data: trOrange, color: C_ORANGE }, { data: trGreen, color: C_GREEN }, { data: trRed, color: C_RED },
  { data: trPurple, color: C_PURPLE }, { data: trBrown, color: C_BROWN }, { data: trPink, color: C_PINK },
  { data: trGray, color: C_GRAY }, { data: trBlue, color: MAIN, main: true },
];
const blSeries: Series[] = [
  { data: blOrange, color: C_ORANGE }, { data: blGreen, color: C_GREEN }, { data: blRed, color: C_RED },
  { data: blPurple, color: C_PURPLE }, { data: blBrown, color: C_BROWN }, { data: blPink, color: C_PINK },
  { data: blGray, color: C_GRAY }, { data: blBlue, color: MAIN, main: true },
];
const brSeries: Series[] = [
  { data: brShort, color: C_BLUE }, { data: brOrange, color: C_ORANGE }, { data: brGreen, color: C_GREEN },
  { data: brRed, color: C_RED }, { data: brPurple, color: C_PURPLE }, { data: brBrown, color: C_BROWN },
  { data: brPink, color: C_PINK }, { data: brGray, color: C_GRAY }, { data: brBlue, color: MAIN, main: true },
];
const brLegendColors = [MAIN, C_BLUE, C_ORANGE, C_GREEN, C_RED, C_PURPLE, C_BROWN, C_PINK, C_GRAY];

const EmptyTick = () => <g />;

function Panel(props: { left: number; top: number; series: Series[]; bars: number[]; xLabels: boolean; yLabels: boolean }) {
  const { left, top, series, bars, xLabels, yLabels } = props;
  const pairs: number[][] = [];
  for (let i = 0; i + 1 < bars.length; i += 2) pairs.push([bars[i], bars[i + 1]]);
  const tickStyle = { fontFamily: FONT, fontSize: 15, fill: TEXT };
  return (
    <div style={{ position: 'absolute', left, top }}>
      <LineChart width={640} height={420} margin={{ top: 30, right: 22, bottom: 5, left: 12 }}>
        <CartesianGrid stroke="#ffffff" strokeWidth={1.3} fill={BG} />
        <XAxis dataKey="t" type="number" domain={[0, 400]} ticks={xTicks} interval={0} allowDataOverflow
          height={30} axisLine={false} tickLine={false} tickSize={0} tickMargin={11}
          tick={xLabels ? tickStyle : EmptyTick} />
        <YAxis type="number" domain={[0, 22]} ticks={yTicks} interval={0} allowDataOverflow
          width={60} axisLine={false} tickLine={false} tickSize={0} tickMargin={10}
          tick={yLabels ? tickStyle : EmptyTick} tickFormatter={(v: number) => v.toFixed(1)} />
        {series.map((s, i) => (
          <Line key={i} data={toPts(s.data)} dataKey="v" type={s.main ? 'linear' : 'monotone'}
            stroke={s.color} strokeOpacity={s.main ? 1 : 0.7} strokeWidth={s.main ? 1.9 : 1.4}
            strokeLinejoin="round" dot={false} activeDot={false} isAnimationActive={false} />
        ))}
        {pairs.map((p, i) => (
          <ReferenceArea key={'b' + i} x1={p[0]} x2={p[1]} y1={0} y2={1} fill="#000000" fillOpacity={1} stroke="none" />
        ))}
      </LineChart>
    </div>
  );
}

export default function App() {
  const brItemY = [465.9, 482.8, 499.7, 516.6, 533.5, 550.4, 567.3, 584.2];
  return (
    <div style={{ position: 'absolute', left: 0, top: 0, width: 1239, height: 823, background: '#ffffff', overflow: 'hidden' }}>
      <Panel left={0} top={0} series={tlSeries} bars={tlBars} xLabels={false} yLabels={true} />
      <Panel left={601} top={0} series={trSeries} bars={trBars} xLabels={false} yLabels={false} />
      <Panel left={0} top={391} series={blSeries} bars={blBars} xLabels={true} yLabels={true} />
      <Panel left={601} top={391} series={brSeries} bars={brBars} xLabels={true} yLabels={false} />
      <svg width={1239} height={823} style={{ position: 'absolute', left: 0, top: 0, pointerEvents: 'none' }}>
        <g fontFamily={FONT} fill={TEXT}>
          <text x={345} y={24.5} fontSize={20} textAnchor="middle">{titleTL}</text>
          <text x={946} y={24.5} fontSize={20} textAnchor="middle">{titleTR}</text>
          <text x={345} y={416} fontSize={20} textAnchor="middle">{titleBL}</text>
          <text x={946} y={416} fontSize={20} textAnchor="middle">{titleBR}</text>
          <text x={345} y={818} fontSize={20} textAnchor="middle">{xLabel}</text>
          <text x={946} y={818} fontSize={20} textAnchor="middle">{xLabel}</text>
          <text x={28} y={207.5} fontSize={20} textAnchor="middle" transform="rotate(-90 28 207.5)">{yLabel}</text>
          <text x={28} y={598.5} fontSize={20} textAnchor="middle" transform="rotate(-90 28 598.5)">{yLabel}</text>
        </g>
        {/* legend top-right */}
        <rect x={1033} y={37.5} width={180} height={25.5} rx={3} fill={BG} fillOpacity={0.85} stroke="#d2d2da" strokeWidth={1} />
        <line x1={1038} y1={49.5} x2={1069} y2={49.5} stroke={MAIN} strokeWidth={1.9} />
        <text x={1080.5} y={54.5} fontFamily={FONT} fontSize={15} fill={TEXT}>{legendTR[0]}</text>
        {/* legend bottom-right */}
        <rect x={1113} y={427.5} width={101} height={168} rx={3} fill={BG} fillOpacity={0.85} stroke="#d2d2da" strokeWidth={1} />
        <line x1={1117} y1={443.3} x2={1142} y2={443.3} stroke={MAIN} strokeWidth={1.9} />
        <text x={1151} y={440.8} fontFamily={FONT} fontSize={12} fill={TEXT}>{legendBR[0]}</text>
        <text x={1151} y={453.4} fontFamily={FONT} fontSize={12} fill={TEXT}>{legendBR[1]}</text>
        {brItemY.map((yy, i) => (
          <g key={i}>
            <line x1={1117} y1={yy} x2={1142} y2={yy} stroke={brLegendColors[i + 1]} strokeOpacity={0.7} strokeWidth={1.4} />
            <text x={1151} y={yy + 4} fontFamily={FONT} fontSize={12} fill={TEXT}>{legendBR[i + 2]}</text>
          </g>
        ))}
      </svg>
    </div>
  );
}
